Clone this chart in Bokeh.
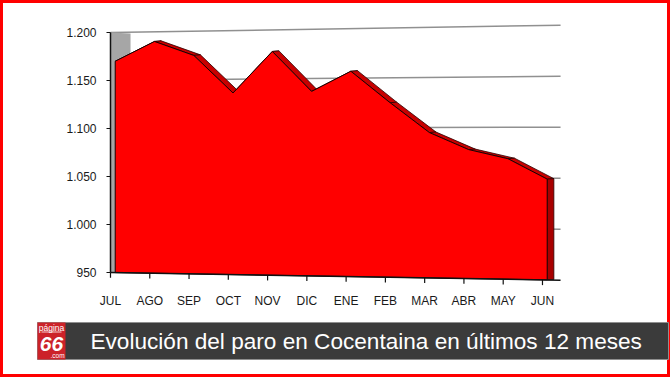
from bokeh.plotting import figure
from bokeh.models import Range1d, FixedTicker
from bokeh.embed import file_html
from bokeh.resources import INLINE
from bokeh.core.properties import value

# ---------------- data ----------------
months = ["JUL", "AGO", "SEP", "OCT", "NOV", "DIC", "ENE", "FEB", "MAR", "ABR", "MAY", "JUN"]
paro = [1170, 1190, 1175, 1136, 1178, 1137, 1157, 1125, 1095, 1078, 1069, 1049]
y_ticks = [950, 1000, 1050, 1100, 1150, 1200]
y_tick_labels = ["950", "1.000", "1.050", "1.100", "1.150", "1.200"]
title_text = "Evolución del paro en Cocentaina en últimos 12 meses"

# ---------------- 3D-look helpers (style only) ----------------
X_BACK_END = 11.46   # right end of back wall (x units)
K = 0.0625           # perspective stretch at right end
C = 1.4
PIVOT = 1100
FRONT_DX = 0.12
DEPTH_DX = 0.17
DEPTH_DY = 0.5
WALL_W = 0.51
BASE = y_ticks[0]
TOP = y_ticks[-1]
FONT = value("Liberation Sans")


def persp(x, v):
    return v + (x / X_BACK_END) * ((v - PIVOT) * K + C)


W, H = 670, 377
p = figure(width=W, height=H,
           x_range=Range1d(-2.801, 14.260), y_range=Range1d(840.625, 1233.333),
           output_backend="svg", toolbar_location=None, min_border=0)
p.extra_x_ranges = {"px": Range1d(0, W)}
p.extra_y_ranges = {"px": Range1d(H, 0)}
p.grid.visible = False
p.background_fill_color = "white"
p.border_fill_color = "white"
p.outline_line_color = "#ff0000"
p.outline_line_width = 5

# y axis
ya = p.yaxis[0]
ya.fixed_location = 0
ya.ticker = FixedTicker(ticks=y_ticks)
ya.major_label_overrides = {t: l for t, l in zip(y_ticks, y_tick_labels)}
ya.bounds = (BASE, TOP)
ya.axis_line_width = 1.5
ya.axis_line_color = "#111111"
ya.major_tick_line_color = "#111111"
ya.major_tick_out = 4
ya.major_tick_in = 0
ya.minor_tick_line_color = None
ya.major_label_text_font = "Liberation Sans"
ya.major_label_text_font_size = "12px"
ya.major_label_text_color = "#1a1a1a"
ya.major_label_standoff = 10

# x axis (labels only; floor line drawn in perspective)
xa = p.xaxis[0]
xa.fixed_location = 940.6
xa.ticker = FixedTicker(ticks=list(range(len(months))))
xa.major_label_overrides = {i: m for i, m in enumerate(months)}
xa.axis_line_color = None
xa.major_tick_line_color = None
xa.minor_tick_line_color = None
xa.major_label_text_font = "Liberation Sans"
xa.major_label_text_font_size = "12px"
xa.major_label_text_color = "#1a1a1a"
xa.major_label_standoff = 6

# back-wall gridlines
gx0, gx1, gy0, gy1 = [], [], [], []
for t in y_ticks[1:]:
    x0 = 0 if t == TOP else WALL_W
    gx0.append(x0)
    gx1.append(X_BACK_END)
    gy0.append(persp(x0, t))
    gy1.append(persp(X_BACK_END, t))
p.segment(gx0, gy0, gx1, gy1, line_color="#909090", line_width=1.5)

# grey side wall
p.patch([0, WALL_W, WALL_W, 0],
        [persp(0, BASE), persp(WALL_W, BASE), persp(WALL_W, TOP) - 1.5, persp(0, TOP)],
        fill_color="#a6a6a6", line_color=None)

n = len(paro)
fx = [i + FRONT_DX for i in range(n)]
fy = [persp(fx[i], paro[i]) for i in range(n)]
bx = [x + DEPTH_DX for x in fx]
by = [persp(bx[i], paro[i]) + DEPTH_DY for i in range(n)]

# top depth strips
sxs, sys = [], []
for i in range(n - 1):
    sxs.append([fx[i], fx[i + 1], bx[i + 1], bx[i]])
    sys.append([fy[i], fy[i + 1], by[i + 1], by[i]])
p.patches(sxs, sys, fill_color="#c80000", line_color="#2a0000", line_width=0.8)

# right side face
p.patch([fx[-1], bx[-1], bx[-1], fx[-1]],
        [fy[-1], by[-1], persp(bx[-1], BASE) + DEPTH_DY, persp(fx[-1], BASE)],
        fill_color="#a80000", line_color="#2a0000", line_width=0.8)

# front face
p.patch(fx + [fx[-1], fx[0]],
        fy + [persp(fx[-1], BASE), persp(fx[0], BASE)],
        fill_color="#ff0000", line_color="#1a0000", line_width=1)

# floor line and ticks
p.line([0, X_BACK_END], [persp(0, BASE), persp(X_BACK_END, BASE)],
       line_color="#111111", line_width=1.5)
tx = list(range(n))
ty0 = [persp(x, BASE) for x in tx]
ty1 = [y - 5.5 for y in ty0]
p.segment(tx, ty0, tx, ty1, line_color="#111111", line_width=1.2)

# ---------------- banner (pixel coordinates via extra ranges) ----------------
R = dict(x_range_name="px", y_range_name="px")
p.quad(left=[37], right=[668], top=[322], bottom=[359],
       fill_color="#3b3b3b", line_color="#8f8f8f", line_width=1, **R)
p.quad(left=[37], right=[65], top=[322], bottom=[359],
       fill_color="#cc2229", line_color=None, **R)
p.text(x=[51], y=[327], text=["página"], text_color="white", text_font=FONT,
       text_font_size="8.5px", text_align="center", text_baseline="middle", **R)
p.segment([41], [331.5], [61], [331.5], line_color="white", line_width=0.8, **R)
p.text(x=[51], y=[343.5], text=["66"], text_color="white", text_font=FONT,
       text_font_size="21px", text_font_style="bold italic",
       text_align="center", text_baseline="middle", **R)
p.text(x=[57], y=[355], text=[".com"], text_color="white", text_font=FONT,
       text_font_size="6.5px", text_align="center", text_baseline="middle", **R)
p.text(x=[90], y=[341], text=[title_text], text_color="white", text_font=FONT,
       text_font_size="22.6px", text_align="left", text_baseline="middle", **R)

open("out.html", "w").write(file_html(p, INLINE))
